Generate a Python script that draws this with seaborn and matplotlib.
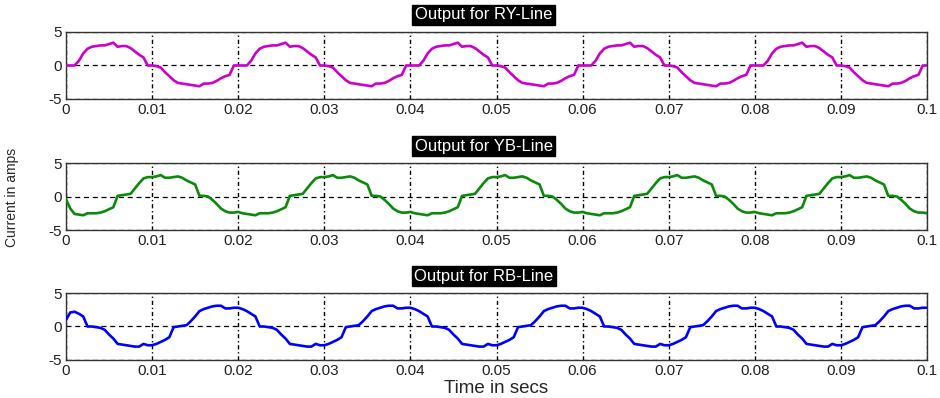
import numpy as np
import pandas as pd
import matplotlib
matplotlib.use("Agg")
import matplotlib.pyplot as plt
import seaborn as sns

# sample instants (s), 0.5 ms spacing
time_s = np.round(np.arange(201) * 0.0005, 4)

ry_current = [
    0.0, 0.0, 0.0, 0.7, 1.8, 2.5, 2.8, 2.9, 3.0, 3.0, 3.2, 3.4, 2.8, 2.9, 2.9, 2.6, 2.1, 1.6, 1.2, 0.0,
    0.0, -0.1, -0.3, -1.0, -1.6, -2.2, -2.6, -2.7, -2.8, -2.9, -3.0, -3.1, -2.7, -2.7, -2.6, -2.3, -1.9, -1.6, -1.4, 0.0,
    0.0, 0.0, 0.0, 0.7, 1.8, 2.5, 2.8, 2.9, 3.0, 3.0, 3.2, 3.4, 2.8, 2.9, 2.9, 2.6, 2.1, 1.6, 1.2, 0.0,
    0.0, -0.1, -0.3, -1.0, -1.6, -2.2, -2.6, -2.7, -2.8, -2.9, -3.0, -3.1, -2.7, -2.7, -2.6, -2.3, -1.9, -1.6, -1.4, 0.0,
    0.0, 0.0, 0.0, 0.7, 1.8, 2.5, 2.8, 2.9, 3.0, 3.0, 3.2, 3.4, 2.8, 2.9, 2.9, 2.6, 2.1, 1.6, 1.2, 0.0,
    0.0, -0.1, -0.3, -1.0, -1.6, -2.2, -2.6, -2.7, -2.8, -2.9, -3.0, -3.1, -2.7, -2.7, -2.6, -2.3, -1.9, -1.6, -1.4, 0.0,
    0.0, 0.0, 0.0, 0.7, 1.8, 2.5, 2.8, 2.9, 3.0, 3.0, 3.2, 3.4, 2.8, 2.9, 2.9, 2.6, 2.1, 1.6, 1.2, 0.0,
    0.0, -0.1, -0.3, -1.0, -1.6, -2.2, -2.6, -2.7, -2.8, -2.9, -3.0, -3.1, -2.7, -2.7, -2.6, -2.3, -1.9, -1.6, -1.4, 0.0,
    0.0, 0.0, 0.0, 0.7, 1.8, 2.5, 2.8, 2.9, 3.0, 3.0, 3.2, 3.4, 2.8, 2.9, 2.9, 2.6, 2.1, 1.6, 1.2, 0.0,
    0.0, -0.1, -0.3, -1.0, -1.6, -2.2, -2.6, -2.7, -2.8, -2.9, -3.0, -3.1, -2.7, -2.7, -2.6, -2.3, -1.9, -1.6, -1.4, 0.0,
    0.0,
]

yb_current = [
    -0.4, -1.8, -2.6, -2.7, -2.8, -2.5, -2.5, -2.5, -2.4, -2.2, -1.9, -1.6, 0.1, 0.2, 0.3, 0.4, 1.2, 2.0, 2.7, 2.9,
    2.9, 3.0, 3.2, 2.8, 2.8, 2.9, 3.0, 2.8, 2.4, 2.1, 1.8, 0.1, 0.1, 0.0, -0.5, -1.1, -1.8, -2.2, -2.4, -2.4,
    -2.3, -2.5, -2.6, -2.7, -2.8, -2.5, -2.5, -2.5, -2.4, -2.2, -1.9, -1.6, 0.1, 0.2, 0.3, 0.4, 1.2, 2.0, 2.7, 2.9,
    2.9, 3.0, 3.2, 2.8, 2.8, 2.9, 3.0, 2.8, 2.4, 2.1, 1.8, 0.1, 0.1, 0.0, -0.5, -1.1, -1.8, -2.2, -2.4, -2.4,
    -2.3, -2.5, -2.6, -2.7, -2.8, -2.5, -2.5, -2.5, -2.4, -2.2, -1.9, -1.6, 0.1, 0.2, 0.3, 0.4, 1.2, 2.0, 2.7, 2.9,
    2.9, 3.0, 3.2, 2.8, 2.8, 2.9, 3.0, 2.8, 2.4, 2.1, 1.8, 0.1, 0.1, 0.0, -0.5, -1.1, -1.8, -2.2, -2.4, -2.4,
    -2.3, -2.5, -2.6, -2.7, -2.8, -2.5, -2.5, -2.5, -2.4, -2.2, -1.9, -1.6, 0.1, 0.2, 0.3, 0.4, 1.2, 2.0, 2.7, 2.9,
    2.9, 3.0, 3.2, 2.8, 2.8, 2.9, 3.0, 2.8, 2.4, 2.1, 1.8, 0.1, 0.1, 0.0, -0.5, -1.1, -1.8, -2.2, -2.4, -2.4,
    -2.3, -2.5, -2.6, -2.7, -2.8, -2.5, -2.5, -2.5, -2.4, -2.2, -1.9, -1.6, 0.1, 0.2, 0.3, 0.4, 1.2, 2.0, 2.7, 2.9,
    2.9, 3.0, 3.2, 2.8, 2.8, 2.9, 3.0, 2.8, 2.4, 2.1, 1.8, 0.1, 0.1, 0.0, -0.5, -1.1, -1.8, -2.2, -2.4, -2.4,
    -2.5,
]

rb_current = [
    1.0, 2.1, 2.2, 1.9, 1.5, 0.0, 0.0, -0.1, -0.2, -0.5, -1.2, -1.8, -2.6, -2.7, -2.8, -2.9, -3.0, -3.0, -2.6, -2.8,
    -2.8, -2.6, -2.3, -2.0, -1.6, -0.1, 0.0, 0.1, 0.2, 0.8, 1.5, 2.3, 2.6, 2.8, 3.0, 3.1, 3.1, 2.7, 2.7, 2.8,
    2.8, 2.6, 2.3, 1.9, 1.5, 0.0, 0.0, -0.1, -0.2, -0.5, -1.2, -1.8, -2.6, -2.7, -2.8, -2.9, -3.0, -3.0, -2.6, -2.8,
    -2.8, -2.6, -2.3, -2.0, -1.6, -0.1, 0.0, 0.1, 0.2, 0.8, 1.5, 2.3, 2.6, 2.8, 3.0, 3.1, 3.1, 2.7, 2.7, 2.8,
    2.8, 2.6, 2.3, 1.9, 1.5, 0.0, 0.0, -0.1, -0.2, -0.5, -1.2, -1.8, -2.6, -2.7, -2.8, -2.9, -3.0, -3.0, -2.6, -2.8,
    -2.8, -2.6, -2.3, -2.0, -1.6, -0.1, 0.0, 0.1, 0.2, 0.8, 1.5, 2.3, 2.6, 2.8, 3.0, 3.1, 3.1, 2.7, 2.7, 2.8,
    2.8, 2.6, 2.3, 1.9, 1.5, 0.0, 0.0, -0.1, -0.2, -0.5, -1.2, -1.8, -2.6, -2.7, -2.8, -2.9, -3.0, -3.0, -2.6, -2.8,
    -2.8, -2.6, -2.3, -2.0, -1.6, -0.1, 0.0, 0.1, 0.2, 0.8, 1.5, 2.3, 2.6, 2.8, 3.0, 3.1, 3.1, 2.7, 2.7, 2.8,
    2.8, 2.6, 2.3, 1.9, 1.5, 0.0, 0.0, -0.1, -0.2, -0.5, -1.2, -1.8, -2.6, -2.7, -2.8, -2.9, -3.0, -3.0, -2.6, -2.8,
    -2.8, -2.6, -2.3, -2.0, -1.6, -0.1, 0.0, 0.1, 0.2, 0.8, 1.5, 2.3, 2.6, 2.8, 3.0, 3.1, 3.1, 2.7, 2.7, 2.8,
    2.8,
]

line_names = ["RY", "YB", "RB"]
panel_titles = ["Output for RY-Line", "Output for YB-Line", "Output for RB-Line"]
line_colors = ["#cc00cc", "#0a8a0a", "#0000ff"]
x_ticks = [0, 0.01, 0.02, 0.03, 0.04, 0.05, 0.06, 0.07, 0.08, 0.09, 0.1]
x_tick_labels = ["0", "0.01", "0.02", "0.03", "0.04", "0.05", "0.06", "0.07", "0.08", "0.09", "0.1"]
y_ticks = [-5, 0, 5]
y_tick_labels = ["-5", "0", "5"]

df = pd.DataFrame({
    "time": np.concatenate([time_s, time_s, time_s]),
    "current": np.concatenate([ry_current, yb_current, rb_current]),
    "line": np.repeat(line_names, len(time_s)),
})

sns.set_style("white")
plt.rcParams["font.family"] = ["Liberation Sans", "DejaVu Sans"]

fig = plt.figure(figsize=(9.4, 3.98), dpi=100)
rects = [
    [0.0702, 0.7513, 0.916, 0.1683],
    [0.0702, 0.4221, 0.916, 0.1683],
    [0.0702, 0.0955, 0.916, 0.1683],
]

axes = []
for rect, name, title, color in zip(rects, line_names, panel_titles, line_colors):
    ax = fig.add_axes(rect)
    sub = df[df["line"] == name]
    sns.lineplot(data=sub, x="time", y="current", ax=ax, color=color,
                 linewidth=1.9, zorder=3)
    ax.set_xlim(0, 0.1)
    ax.set_ylim(-5, 5)
    ax.set_xticks(x_ticks)
    ax.set_xticklabels(x_tick_labels)
    ax.set_yticks(y_ticks)
    ax.set_yticklabels(y_tick_labels)
    ax.tick_params(direction="in", length=3, width=0.8, labelsize=11,
                   colors="#202020", pad=3)
    ax.xaxis.grid(True, color="black", linestyle=(0, (3, 2, 1, 2)), linewidth=1.0)
    ax.yaxis.grid(True, color="black", linestyle=(0, (4, 3)), linewidth=0.9)
    ax.set_axisbelow(True)
    for sp in ax.spines.values():
        sp.set_color("#333333")
        sp.set_linewidth(1.0)
    ax.set_xlabel("")
    ax.set_ylabel("")
    ax.set_title(title, color="white", fontsize=12, pad=9, x=0.485,
                 bbox=dict(facecolor="black", edgecolor="black", pad=1.8))
    axes.append(ax)

axes[2].set_xlabel("Time in secs", fontsize=13.5, labelpad=1)
fig.text(0.013, 0.505, "Current in amps", rotation=90, va="center", ha="center",
         fontsize=10, family=["Liberation Sans Narrow", "Liberation Sans", "DejaVu Sans"])

fig.savefig("out.png", dpi=100, facecolor="white")
